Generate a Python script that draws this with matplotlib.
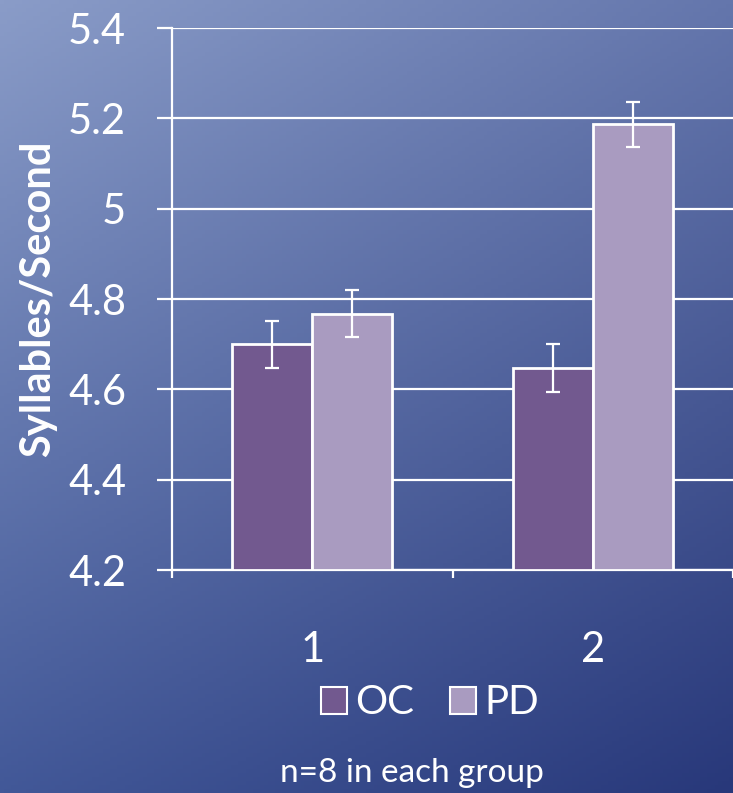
import numpy as np
import matplotlib
matplotlib.use("Agg")
import matplotlib.pyplot as plt
from matplotlib.patches import Patch

categories = ["1", "2"]
series_names = ["OC", "PD"]
oc_values = [4.70, 4.647]
pd_values = [4.767, 5.187]
oc_err = [0.052, 0.054]
pd_err = [0.052, 0.05]
y_ticks = [4.2, 4.4, 4.6, 4.8, 5.0, 5.2, 5.4]
y_ticklabels = ["4.2", "4.4", "4.6", "4.8", "5", "5.2", "5.4"]
ylabel = "Syllables/Second"
note = "n=8 in each group"

oc_color = "#72598f"
pd_color = "#a99bc0"
FONT = ["Lato", "DejaVu Sans"]
plt.rcParams["font.family"] = FONT

W, H = 733, 793
fig = plt.figure(figsize=(W / 100, H / 100), dpi=100)

# background gradient
bg = fig.add_axes([0, 0, 1, 1], zorder=-10)
xx, yy = np.meshgrid(np.linspace(0, 1, 200), np.linspace(0, 1, 200))
tl = np.array([138, 156, 200]) / 255
tr = np.array([100, 118, 172]) / 255
bl = np.array([66, 88, 152]) / 255
br = np.array([40, 56, 122]) / 255
img = ((1 - xx)[..., None] * (1 - yy)[..., None] * tl + xx[..., None] * (1 - yy)[..., None] * tr
       + (1 - xx)[..., None] * yy[..., None] * bl + xx[..., None] * yy[..., None] * br)
bg.imshow(img, aspect="auto", extent=[0, 1, 0, 1], origin="upper")
bg.axis("off")

ax = fig.add_axes([172 / W, 1 - 570 / H, 1 - 172 / W, (570 - 28) / H])
ax.set_facecolor("none")

x = np.arange(len(categories))
bw = 0.285
ekw = dict(ecolor="white", elinewidth=1.6, capsize=5, capthick=1.6)
ax.bar(x - bw / 2, [v - 4.2 for v in oc_values], bw, bottom=4.2, color=oc_color,
       edgecolor="white", linewidth=2, yerr=oc_err, error_kw=ekw, zorder=3, label=series_names[0])
ax.bar(x + bw / 2, [v - 4.2 for v in pd_values], bw, bottom=4.2, color=pd_color,
       edgecolor="white", linewidth=2, yerr=pd_err, error_kw=ekw, zorder=3, label=series_names[1])

ax.set_xlim(-0.5, 1.5)
ax.set_ylim(4.2, 5.4)
ax.set_yticks(y_ticks)
ax.set_yticklabels(y_ticklabels)
ax.set_xticks(x)
ax.set_xticklabels(categories)
ax.set_xticks([-0.5, 0.5, 1.5], minor=True)
ax.grid(axis="y", color="white", linewidth=1.6, zorder=0)
ax.set_axisbelow(True)
for s in ["top", "right"]:
    ax.spines[s].set_visible(False)
for s in ["left", "bottom"]:
    ax.spines[s].set_color("white")
    ax.spines[s].set_linewidth(1.6)
ax.tick_params(axis="y", colors="white", length=11, width=1.6, pad=22, labelsize=30)
ax.tick_params(axis="x", which="major", length=0, pad=44, labelsize=30, labelcolor="white")
ax.tick_params(axis="x", which="minor", length=6, width=1.6, color="white")
ax.set_ylabel(ylabel, color="white", fontsize=30, fontweight="bold")
ax.yaxis.set_label_coords(-0.205, 0.5)

handles = [Patch(facecolor=oc_color, edgecolor="white", linewidth=1.5),
           Patch(facecolor=pd_color, edgecolor="white", linewidth=1.5)]
fig.legend(handles, series_names, loc="center", bbox_to_anchor=(430 / W, 1 - 703 / H),
           ncol=2, frameon=False, fontsize=29, labelcolor="white", handlelength=0.65,
           handleheight=0.65, handletextpad=0.2, columnspacing=0.9)
fig.text(412 / W, 1 - 773 / H, note, color="white", fontsize=24, ha="center", va="center")

fig.savefig("out.png", dpi=100)
